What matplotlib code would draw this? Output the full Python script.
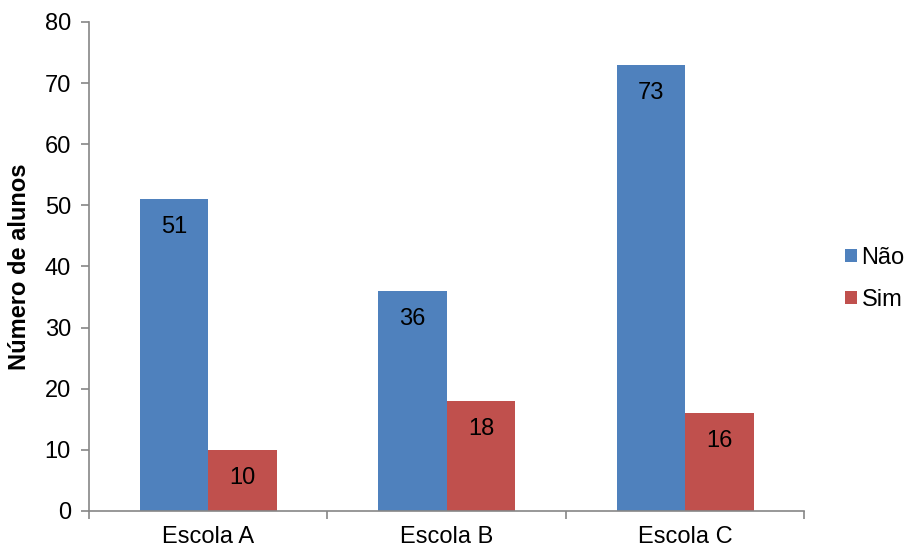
import numpy as np
import matplotlib.pyplot as plt

plt.rcParams['font.family'] = ['Liberation Sans', 'DejaVu Sans']

escolas = ['Escola A', 'Escola B', 'Escola C']
nao = [51, 36, 73]
sim = [10, 18, 16]

fig = plt.figure(figsize=(9.08, 5.47), dpi=100)
ax = fig.add_axes([0.098, 0.066, 0.788, 0.894])

x = np.arange(len(escolas))
w = 0.288
b1 = ax.bar(x - w / 2, nao, w, color='#4F81BD', label='Não')
b2 = ax.bar(x + w / 2, sim, w, color='#C0504D', label='Sim')

for bars, vals in ((b1, nao), (b2, sim)):
    for r, v in zip(bars, vals):
        ax.text(r.get_x() + r.get_width() / 2, v - 4.6, str(v),
                ha='center', va='center', fontsize=17)

ax.set_xlim(-0.5, 2.5)
ax.set_ylim(0, 80)
ax.set_yticks(range(0, 81, 10))
ax.set_xticks(x)
ax.set_xticklabels(escolas)
ax.set_xticks([-0.5, 0.5, 1.5, 2.5], minor=True)
ax.tick_params(axis='x', which='major', length=0, labelsize=17, pad=11)
ax.tick_params(axis='x', which='minor', length=6, color='#868686', width=1.2)
ax.tick_params(axis='y', length=6, color='#868686', width=1.2, labelsize=17, pad=7)

for s in ['top', 'right']:
    ax.spines[s].set_visible(False)
for s in ['left', 'bottom']:
    ax.spines[s].set_color('#868686')
    ax.spines[s].set_linewidth(1.2)

ax.set_ylabel('Número de alunos', fontsize=17, fontweight='bold', labelpad=10)

fig.legend(loc='center left', bbox_to_anchor=(845 / 908, 1 - 279 / 547),
           frameon=False, fontsize=17, handlelength=0.5, handleheight=0.5,
           handletextpad=0.2, labelspacing=0.85, borderpad=0, borderaxespad=0)

fig.savefig('out.png', dpi=100)
